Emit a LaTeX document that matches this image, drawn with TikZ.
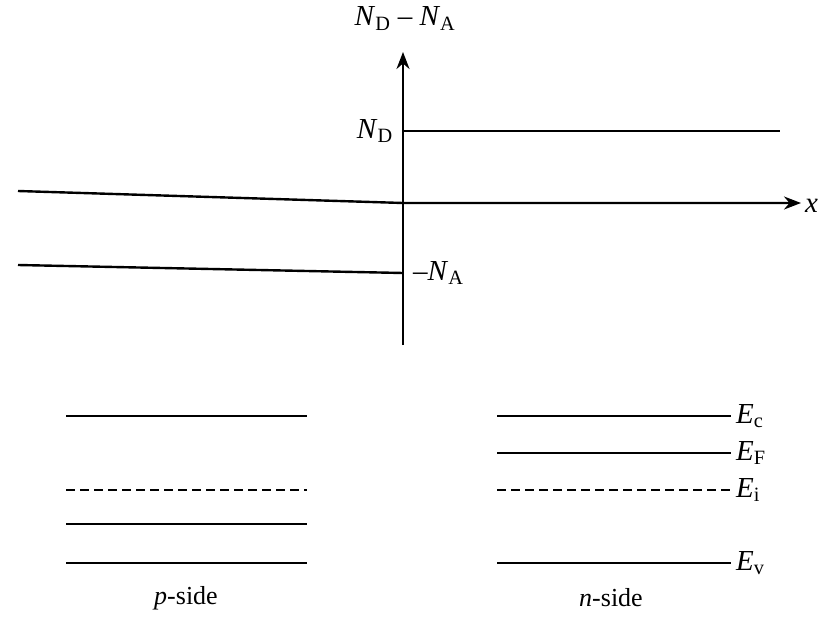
\documentclass[tikz,border=0pt]{standalone}
\usepackage{fontspec}
\setmainfont{Liberation Serif}
\usetikzlibrary{arrows.meta,positioning}
\newcommand{\lab}[2]{\textit{#1}\textsubscript{#2}}

\begin{document}
\begin{tikzpicture}[x=1pt,y=-1pt,
  axis/.style={line width=2.4pt,-{Stealth[length=17pt,width=13pt]}},
  level/.style={line width=2.4pt},
  midlevel/.style={line width=2.2pt,dash pattern=on 9pt off 5pt},
  lbl/.style={font=\fontsize{29}{33}\selectfont,inner sep=2pt},
  sidelbl/.style={font=\fontsize{26}{30}\selectfont,inner sep=2pt}]
  \useasboundingbox (0,0) rectangle (823,623);

  % doping profile axes
  \coordinate (vb) at (403,345);
  \coordinate (vt) at (403,52);
  \draw[axis] (vb) -- (vt);
  \node[lbl,anchor=base] (ylab) at (405,26) {\lab{N}{D} -- \lab{N}{A}};

  \coordinate (hl) at (18,191);
  \coordinate (org) at (403,203);
  \coordinate (hr) at (801,203);
  \draw[axis] (hl) -- (org) -- (hr);
  \node[lbl,anchor=west,inner sep=1pt] (xlab) at (804,206) {\textit{x}};

  % donor and acceptor levels
  \coordinate (nd0) at (403,131);
  \coordinate (nd1) at (780,131);
  \draw[level] (nd0) -- (nd1);
  \node[lbl,left=8pt of nd0] (ndlab) {\lab{N}{D}};

  \coordinate (na0) at (18,265);
  \coordinate (na1) at (403,273);
  \draw[level] (na0) -- (na1);
  \node[lbl,right=8pt of na1] (nalab) {--\lab{N}{A}};

  % p-side bands
  \coordinate (pc0) at (66,416);  \coordinate (pc1) at (307,416);
  \coordinate (pi0) at (66,490);  \coordinate (pi1) at (307,490);
  \coordinate (pf0) at (66,524);  \coordinate (pf1) at (307,524);
  \coordinate (pv0) at (66,563);  \coordinate (pv1) at (307,563);
  \draw[level] (pc0) -- (pc1);
  \draw[midlevel] (pi0) -- (pi1);
  \draw[level] (pf0) -- (pf1);
  \draw[level] (pv0) -- (pv1);
  \node[sidelbl] (pside) at (186,598) {\textit{p}-side};

  % n-side bands
  \coordinate (nc0) at (497,416); \coordinate (nc1) at (731,416);
  \coordinate (nf0) at (497,453); \coordinate (nf1) at (731,453);
  \coordinate (ni0) at (497,490); \coordinate (ni1) at (731,490);
  \coordinate (nv0) at (497,563); \coordinate (nv1) at (731,563);
  \draw[level] (nc0) -- (nc1);
  \draw[level] (nf0) -- (nf1);
  \draw[midlevel] (ni0) -- (ni1);
  \draw[level] (nv0) -- (nv1);
  \node[lbl,right=3pt of nc1] (eclab) {\lab{E}{c}};
  \node[lbl,right=3pt of nf1] (eflab) {\lab{E}{F}};
  \node[lbl,right=3pt of ni1] (eilab) {\lab{E}{i}};
  \node[lbl,right=3pt of nv1] (evlab) {\lab{E}{v}};
  \node[sidelbl] (nside) at (611,598) {\textit{n}-side};
\end{tikzpicture}
\end{document}
